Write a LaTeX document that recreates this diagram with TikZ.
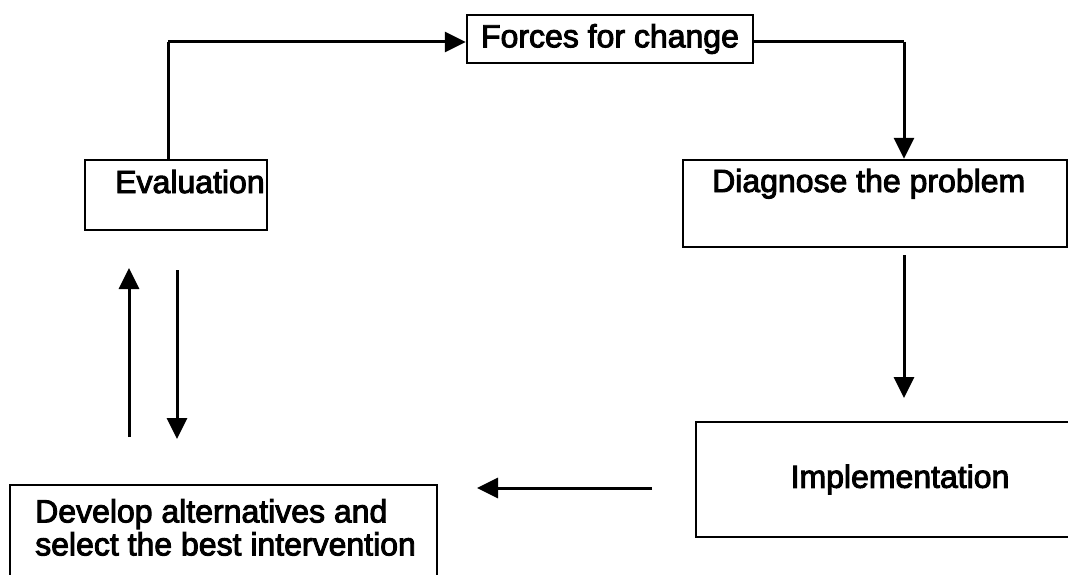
\documentclass[tikz,border=0pt]{standalone}
\usepackage{fontspec}
\setmainfont[FakeBold=3]{Liberation Sans}
\usetikzlibrary{arrows.meta,calc}
\begin{document}
\begin{tikzpicture}[x=1pt,y=-1pt,
  box/.style={draw=black,line width=2.4pt,rectangle,inner sep=0pt},
  txt/.style={inner sep=0pt,font=\fontsize{32}{33}\selectfont},
  arr/.style={draw=black,line width=3pt,-{Triangle[length=21pt,width=20pt]}},
  ln/.style={draw=black,line width=3pt}]
\useasboundingbox (0,0) rectangle (1068,575);
\clip (0,0) rectangle (1068,575);
% boxes
\node[box,txt,minimum width=286pt,minimum height=48pt] (forces) at (610,39) {Forces for change};
\node[box,minimum width=182pt,minimum height=70pt] (eval) at (176,195) {};
\node[box,minimum width=384pt,minimum height=87pt] (diag) at (875,203.5) {};
\node[box,txt,minimum width=408pt,minimum height=115pt] (impl) at (900,479.5) {Implementation};
\node[box,minimum width=427pt,minimum height=135pt] (dev) at (223.5,552.5) {};
% texts
\node[txt,anchor=base west] (evaltxt) at (115,193) {Evaluation};
\node[txt,anchor=base west] (diagtxt) at (712,192) {Diagnose the problem};
\node[txt,anchor=north west,align=left] (devtxt) at (35,499) {Develop alternatives and\\select the best intervention};
% free ends
\coordinate (d1) at (904,255);
\coordinate (d2) at (904,398);
\coordinate (h1) at (652,488);
\coordinate (h2) at (477,488);
\coordinate (u1) at (129,437);
\coordinate (u2) at (129,268);
\coordinate (v1) at (177,270);
\coordinate (v2) at (177,439);
\coordinate (top) at (168,42);
\coordinate (tr) at (904,42);
% connectors
\draw[ln] ([xshift=-8pt]eval.north) -- (top);
\draw[arr] (top) -- (top -| forces.west);
\draw[ln] (forces.east |- tr) -- (tr);
\draw[arr] (tr) -- (tr |- diag.north);
\draw[arr] (d1) -- (d2);
\draw[arr] (h1) -- (h2);
\draw[arr] (u1) -- (u2);
\draw[arr] (v1) -- (v2);
\end{tikzpicture}
\end{document}
